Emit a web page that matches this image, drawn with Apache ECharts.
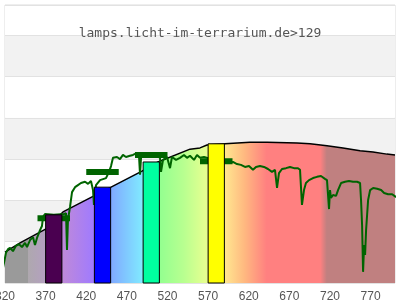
<!DOCTYPE html>
<html><head><meta charset="utf-8">
<script src="https://cdn.jsdelivr.net/npm/echarts@6/dist/echarts.min.js"></script>
<style>html,body{margin:0;padding:0;background:#fff}#c{width:400px;height:300px}</style>
</head><body><div id="c"></div>
<script>
const titleText = 'lamps.licht-im-terrarium.de>129';

// Reference (black) curve: wavelength (nm) and relative value
const curveNm  = [320, 338.5, 354.5, 363, 370.5, 391.4, 429.5, 450.5, 488.6, 508.3, 547.7, 560, 568.6, 590.8, 621.5, 642.5, 679.4, 695.4, 716.3, 736, 757, 773, 790, 800];
const curveVal = [7.5, 9.7, 11.4, 12.3, 13.1, 17.2, 21.1, 23.2, 27.1, 29.3, 32.4, 32.7, 33.4, 33.7, 34.1, 34.1, 33.9, 33.7, 33.2, 32.7, 32.0, 31.7, 31.2, 31.0];

// Measured spectrum (green line)
const specNm = [313.8,317.5,321.2,323.7,326.2,329.8,333.5,337.2,340.9,344.6,347.1,350.8,354.5,356.9,359.4,363.1,365.5,366.8,369.2,
  380,392.6,395.1,396.3,397.5,400,402.5,406.2,409.8,413.5,418.5,422.2,425.8,428.3,429.5,432,437,444.3,448,450.5,452.9,457.8,461.5,465.2,468.9,473.8,477.5,482.5,484.9,486.2,487.4,
  492.3,498.5,504.6,510.8,512,514.5,519.4,523.1,525.5,530.5,535.4,540.3,544,547.7,552.6,556.3,560,564.9,578,
  590.8,595.7,600.6,605.5,610.4,615.4,620.3,625.2,628.9,633.8,638.8,643.7,648.6,652.3,654.8,657.2,660.9,665.8,670.8,675.7,680.6,683.1,685.5,688,690.4,694.2,699.1,704,708.9,713.8,716.3,718.8,720,721.2,723.7,727.4,729.9,733.6,738.5,743.4,748.3,753.3,757,758.2,759.5,760.7,762,763.2,764.4,766.9,769.4,773.1,778,782.9,786.6,791.5,796.5,801.4];
const specVal = [2.4,3.6,7.3,8.2,8.5,7.7,9.0,9.4,8.7,9.7,8.7,10.4,11.1,9.2,10.9,12.8,13.8,16.0,16.7,
  16.5,16.7,16.9,8.0,15.3,18.4,22.0,23.2,23.7,24.2,24.5,24.0,24.7,22.5,18.9,23.7,24.9,25.4,26.9,28.3,30.3,30.5,30.0,31.0,30.5,30.8,31.0,31.5,30.8,26.2,30.3,
  31.2,31.0,31.2,30.3,26.9,29.8,30.5,27.8,30.5,29.8,30.3,31.0,30.3,30.8,29.8,31.0,30.3,30.5,29.8,
  29.3,29.1,29.3,28.8,28.6,28.1,28.3,27.4,28.1,28.3,28.1,27.6,26.9,27.4,23.0,26.6,27.6,27.8,28.1,27.8,27.8,27.4,18.9,22.5,24.2,24.9,25.4,25.7,25.9,25.2,24.9,17.9,22.5,20.6,21.3,21.1,22.5,24.2,24.5,24.7,24.5,24.5,24.2,20.1,14.0,2.7,9.2,6.8,12.8,20.1,22.5,23.0,22.8,22.5,21.8,21.5,21.5,20.8];

// Band markers (dark green): start nm, end nm, value
const markStart = [360, 420, 480, 560];
const markEnd   = [400, 460, 520, 600];
const markVal   = [15.7, 26.9, 31.0, 29.5];

// Coloured bars: start nm, end nm, value
const barStart = [370, 430, 490, 570];
const barEnd   = [390, 450, 510, 590];
const barVal   = [16.5, 23.2, 29.3, 33.7];
const barColors = ['#4a0050', '#0000ff', '#00ffa0', '#ffff00'];

// Spectrum colour stops (style): nm -> colour
const stopNm  = [320, 348, 348.1, 370, 390, 430, 450, 488, 508, 540, 566, 590, 615, 642, 708, 716, 800];
const stopCol = ['#9a9a9a','#9a9a9a','#aea8ae','#b4a0c0','#c08ad8','#9f7aff','#80a8ff','#80e8ff','#90ff90','#b8ff90','#e4ff90','#ffe890','#ffb880','#ff8080','#ff8080','#c08080','#c08080'];

const xMin = 320, xMax = 800;
const colorStops = stopNm.map((n, i) => ({ offset: (n - xMin) / (xMax - xMin), color: stopCol[i] }));

const chart = echarts.init(document.getElementById('c'), null, { renderer: 'canvas' });
chart.setOption({
  animation: false,
  title: {
    text: titleText, left: 'center', top: 22,
    textStyle: { fontFamily: 'DejaVu Sans Mono', fontSize: 13, fontWeight: 'normal', color: '#555' }
  },
  grid: { left: 5, right: 5, top: 5, bottom: 17, containLabel: false, outerBoundsMode: 'none',
    show: true, borderColor: '#dcdcdc', borderWidth: 1 },
  xAxis: {
    type: 'value', min: xMin, max: xMax, interval: 50,
    axisLine: { show: false }, axisTick: { show: false }, splitLine: { show: false },
    axisLabel: { showMaxLabel: false, hideOverlap: false, color: '#555', fontSize: 12, fontFamily: 'Liberation Sans', margin: 8 }
  },
  yAxis: {
    type: 'value', min: 0, max: 67.3, interval: 10,
    axisLabel: { show: false }, axisLine: { show: false }, axisTick: { show: false },
    splitLine: { show: true, lineStyle: { color: '#e2e2e2' } },
    splitArea: { show: true, areaStyle: { color: ['#ffffff', '#f2f2f2'] } }
  },
  series: [
    {
      type: 'line', z: 1, silent: true, symbol: 'none',
      data: curveNm.map((n, i) => [n, curveVal[i]]),
      lineStyle: { color: '#000', width: 1.5 },
      areaStyle: { opacity: 1, color: { type: 'linear', x: 0, y: 0, x2: 1, y2: 0, colorStops: colorStops } }
    },
    {
      type: 'custom', z: 2, silent: true,
      data: markStart.map((s, i) => [s, markEnd[i], markVal[i]]),
      encode: { x: [0, 1], y: 2 },
      renderItem: function (params, api) {
        const p0 = api.coord([api.value(0), api.value(2)]);
        const p1 = api.coord([api.value(1), api.value(2)]);
        return { type: 'rect', shape: { x: p0[0], y: p0[1] - 3, width: p1[0] - p0[0], height: 6 }, style: { fill: '#006400' } };
      }
    },
    {
      type: 'line', z: 3, silent: true, symbol: 'none', clip: false,
      data: specNm.map((n, i) => [n, specVal[i]]),
      lineStyle: { color: '#006400', width: 2 }
    },
    {
      type: 'custom', z: 4, silent: true,
      data: barStart.map((s, i) => [s, barEnd[i], barVal[i]]),
      encode: { x: [0, 1], y: 2 },
      renderItem: function (params, api) {
        const p0 = api.coord([api.value(0), api.value(2)]);
        const p1 = api.coord([api.value(1), 0]);
        return { type: 'rect', shape: { x: p0[0], y: p0[1], width: p1[0] - p0[0], height: p1[1] - p0[1] },
          style: { fill: barColors[params.dataIndex], stroke: '#000', lineWidth: 1 } };
      }
    }
  ]
});
</script>
</body></html>
